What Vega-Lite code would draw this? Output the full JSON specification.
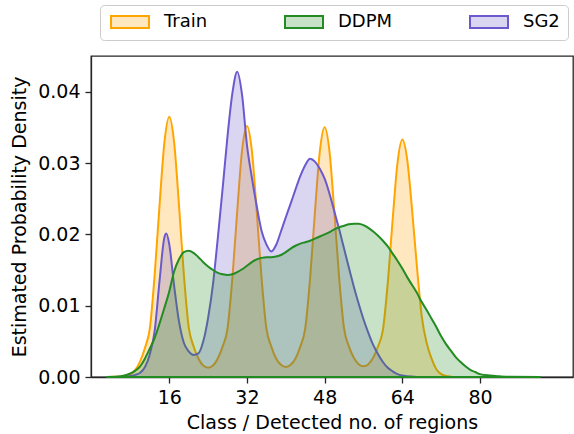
{
  "$schema": "https://vega.github.io/schema/vega-lite/v6.json",
  "width": 482,
  "height": 321,
  "autosize": {"type": "none"},
  "padding": {"left": 91, "top": 56, "right": 1, "bottom": 57},
  "background": "white",
  "config": {
    "font": "DejaVu Sans",
    "view": {"stroke": "#262626", "strokeWidth": 1.3},
    "axis": {"labelFont": "DejaVu Sans", "titleFont": "DejaVu Sans", "labelFontSize": 19, "titleFontSize": 19, "titleFontWeight": "normal", "labelColor": "#000000", "titleColor": "#000000", "tickColor": "#262626", "domainColor": "#262626", "tickWidth": 1.3, "domainWidth": 1.3, "tickSize": 6, "grid": false},
    "legend": {"title": null, "orient": "none", "legendX": 9, "legendY": -51, "direction": "horizontal", "columns": 3, "columnPadding": 72, "symbolType": "M-3.167,-1H3.167V1H-3.167Z", "symbolSize": 144, "symbolStrokeWidth": 2, "symbolOffset": 13, "labelOffset": 25, "labelFontSize": 18, "labelFont": "DejaVu Sans", "labelColor": "#000000", "padding": 8, "strokeColor": "#cccccc", "fillColor": "white", "cornerRadius": 4}
  },
  "data": {"values": [
    {"s":"Train","x":3.5,"y":0},{"s":"Train","x":5,"y":0.00003},{"s":"Train","x":6,"y":0.00006},{"s":"Train","x":7,"y":0.00015},{"s":"Train","x":8,"y":0.0004},{"s":"Train","x":9,"y":0.001},{"s":"Train","x":10,"y":0.0022},{"s":"Train","x":11,"y":0.0041},{"s":"Train","x":12,"y":0.0068},{"s":"Train","x":13,"y":0.0144},{"s":"Train","x":14,"y":0.0241},{"s":"Train","x":15,"y":0.0329},{"s":"Train","x":16,"y":0.0365},{"s":"Train","x":17,"y":0.0329},{"s":"Train","x":18,"y":0.0241},{"s":"Train","x":19,"y":0.0144},{"s":"Train","x":20,"y":0.007},{"s":"Train","x":21,"y":0.0043},{"s":"Train","x":22,"y":0.0026},{"s":"Train","x":23,"y":0.0016},{"s":"Train","x":24,"y":0.0013},{"s":"Train","x":25,"y":0.0016},{"s":"Train","x":26,"y":0.0026},{"s":"Train","x":27,"y":0.0043},{"s":"Train","x":28,"y":0.0068},{"s":"Train","x":29,"y":0.0139},{"s":"Train","x":30,"y":0.0233},{"s":"Train","x":31,"y":0.0318},{"s":"Train","x":32,"y":0.0352},{"s":"Train","x":33,"y":0.0318},{"s":"Train","x":34,"y":0.0233},{"s":"Train","x":35,"y":0.0139},{"s":"Train","x":36,"y":0.0068},{"s":"Train","x":37,"y":0.0043},{"s":"Train","x":38,"y":0.0026},{"s":"Train","x":39,"y":0.0017},{"s":"Train","x":40,"y":0.0014},{"s":"Train","x":41,"y":0.0017},{"s":"Train","x":42,"y":0.0026},{"s":"Train","x":43,"y":0.0043},{"s":"Train","x":44,"y":0.0068},{"s":"Train","x":45,"y":0.0138},{"s":"Train","x":46,"y":0.0231},{"s":"Train","x":47,"y":0.0316},{"s":"Train","x":48,"y":0.035},{"s":"Train","x":49,"y":0.0316},{"s":"Train","x":50,"y":0.0231},{"s":"Train","x":51,"y":0.0138},{"s":"Train","x":52,"y":0.0068},{"s":"Train","x":53,"y":0.0043},{"s":"Train","x":54,"y":0.0027},{"s":"Train","x":55,"y":0.0018},{"s":"Train","x":56,"y":0.0015},{"s":"Train","x":57,"y":0.0018},{"s":"Train","x":58,"y":0.0027},{"s":"Train","x":59,"y":0.0043},{"s":"Train","x":60,"y":0.0066},{"s":"Train","x":61,"y":0.0132},{"s":"Train","x":62,"y":0.022},{"s":"Train","x":63,"y":0.03},{"s":"Train","x":64,"y":0.0333},{"s":"Train","x":65,"y":0.0305},{"s":"Train","x":66,"y":0.0235},{"s":"Train","x":67,"y":0.0155},{"s":"Train","x":68,"y":0.0085},{"s":"Train","x":69,"y":0.0048},{"s":"Train","x":70,"y":0.0026},{"s":"Train","x":71,"y":0.0011},{"s":"Train","x":72,"y":0.0004},{"s":"Train","x":73,"y":0.00015},{"s":"Train","x":74,"y":0.00005},{"s":"Train","x":75,"y":0},
    {"s":"SG2","x":5,"y":0},{"s":"SG2","x":7,"y":0.00005},{"s":"SG2","x":8,"y":0.00015},{"s":"SG2","x":9,"y":0.0003},{"s":"SG2","x":10,"y":0.0006},{"s":"SG2","x":11,"y":0.0014},{"s":"SG2","x":12,"y":0.0032},{"s":"SG2","x":13,"y":0.0065},{"s":"SG2","x":14,"y":0.0135},{"s":"SG2","x":15,"y":0.0196},{"s":"SG2","x":15.4,"y":0.0201},{"s":"SG2","x":16,"y":0.0186},{"s":"SG2","x":17,"y":0.0128},{"s":"SG2","x":18,"y":0.0078},{"s":"SG2","x":19,"y":0.0048},{"s":"SG2","x":20,"y":0.0036},{"s":"SG2","x":21,"y":0.0031},{"s":"SG2","x":22,"y":0.0033},{"s":"SG2","x":23,"y":0.005},{"s":"SG2","x":24,"y":0.0083},{"s":"SG2","x":25,"y":0.013},{"s":"SG2","x":26,"y":0.0195},{"s":"SG2","x":27,"y":0.0265},{"s":"SG2","x":28,"y":0.0338},{"s":"SG2","x":29,"y":0.0398},{"s":"SG2","x":30,"y":0.0428},{"s":"SG2","x":31,"y":0.0395},{"s":"SG2","x":32,"y":0.0325},{"s":"SG2","x":33,"y":0.028},{"s":"SG2","x":34,"y":0.024},{"s":"SG2","x":35,"y":0.0205},{"s":"SG2","x":36,"y":0.0186},{"s":"SG2","x":37,"y":0.0176},{"s":"SG2","x":38,"y":0.0185},{"s":"SG2","x":39,"y":0.0204},{"s":"SG2","x":40,"y":0.0224},{"s":"SG2","x":41,"y":0.0243},{"s":"SG2","x":42,"y":0.0263},{"s":"SG2","x":43,"y":0.0282},{"s":"SG2","x":44,"y":0.0297},{"s":"SG2","x":45,"y":0.0306},{"s":"SG2","x":46,"y":0.0302},{"s":"SG2","x":47,"y":0.0292},{"s":"SG2","x":48,"y":0.0278},{"s":"SG2","x":49,"y":0.0257},{"s":"SG2","x":50,"y":0.0232},{"s":"SG2","x":51,"y":0.0207},{"s":"SG2","x":52,"y":0.018},{"s":"SG2","x":53,"y":0.0153},{"s":"SG2","x":54,"y":0.0127},{"s":"SG2","x":55,"y":0.0103},{"s":"SG2","x":56,"y":0.0081},{"s":"SG2","x":57,"y":0.0062},{"s":"SG2","x":58,"y":0.0045},{"s":"SG2","x":59,"y":0.0032},{"s":"SG2","x":60,"y":0.0021},{"s":"SG2","x":61,"y":0.0013},{"s":"SG2","x":62,"y":0.0008},{"s":"SG2","x":63,"y":0.0004},{"s":"SG2","x":64,"y":0.0002},{"s":"SG2","x":65,"y":0.0001},{"s":"SG2","x":67,"y":0},
    {"s":"DDPM","x":3,"y":0},{"s":"DDPM","x":6,"y":0.0001},{"s":"DDPM","x":8,"y":0.0005},{"s":"DDPM","x":9,"y":0.0009},{"s":"DDPM","x":10,"y":0.0015},{"s":"DDPM","x":11,"y":0.0026},{"s":"DDPM","x":12,"y":0.004},{"s":"DDPM","x":13,"y":0.0055},{"s":"DDPM","x":14,"y":0.0075},{"s":"DDPM","x":15,"y":0.0097},{"s":"DDPM","x":16,"y":0.012},{"s":"DDPM","x":17,"y":0.0148},{"s":"DDPM","x":18,"y":0.0165},{"s":"DDPM","x":19,"y":0.0175},{"s":"DDPM","x":20,"y":0.0177},{"s":"DDPM","x":21,"y":0.0174},{"s":"DDPM","x":22,"y":0.0168},{"s":"DDPM","x":23,"y":0.0161},{"s":"DDPM","x":24,"y":0.0155},{"s":"DDPM","x":25,"y":0.015},{"s":"DDPM","x":26,"y":0.0146},{"s":"DDPM","x":27,"y":0.0144},{"s":"DDPM","x":28,"y":0.0143},{"s":"DDPM","x":29,"y":0.0144},{"s":"DDPM","x":30,"y":0.0147},{"s":"DDPM","x":31,"y":0.0151},{"s":"DDPM","x":32,"y":0.0156},{"s":"DDPM","x":33,"y":0.0161},{"s":"DDPM","x":34,"y":0.0165},{"s":"DDPM","x":35,"y":0.0167},{"s":"DDPM","x":36,"y":0.0168},{"s":"DDPM","x":37,"y":0.0168},{"s":"DDPM","x":38,"y":0.0169},{"s":"DDPM","x":39,"y":0.0171},{"s":"DDPM","x":40,"y":0.0175},{"s":"DDPM","x":41,"y":0.018},{"s":"DDPM","x":42,"y":0.0184},{"s":"DDPM","x":43,"y":0.0187},{"s":"DDPM","x":44,"y":0.0189},{"s":"DDPM","x":45,"y":0.0191},{"s":"DDPM","x":46,"y":0.0194},{"s":"DDPM","x":47,"y":0.0197},{"s":"DDPM","x":48,"y":0.02},{"s":"DDPM","x":49,"y":0.0203},{"s":"DDPM","x":50,"y":0.0207},{"s":"DDPM","x":51,"y":0.021},{"s":"DDPM","x":52,"y":0.0212},{"s":"DDPM","x":53,"y":0.0214},{"s":"DDPM","x":54,"y":0.0215},{"s":"DDPM","x":55,"y":0.0215},{"s":"DDPM","x":56,"y":0.0213},{"s":"DDPM","x":57,"y":0.0209},{"s":"DDPM","x":58,"y":0.0204},{"s":"DDPM","x":59,"y":0.0198},{"s":"DDPM","x":60,"y":0.0191},{"s":"DDPM","x":61,"y":0.0183},{"s":"DDPM","x":62,"y":0.0173},{"s":"DDPM","x":63,"y":0.0163},{"s":"DDPM","x":64,"y":0.0152},{"s":"DDPM","x":65,"y":0.014},{"s":"DDPM","x":66,"y":0.0129},{"s":"DDPM","x":67,"y":0.0118},{"s":"DDPM","x":68,"y":0.0105},{"s":"DDPM","x":69,"y":0.0094},{"s":"DDPM","x":70,"y":0.0082},{"s":"DDPM","x":71,"y":0.007},{"s":"DDPM","x":72,"y":0.0057},{"s":"DDPM","x":73,"y":0.0046},{"s":"DDPM","x":74,"y":0.0037},{"s":"DDPM","x":75,"y":0.0028},{"s":"DDPM","x":76,"y":0.0021},{"s":"DDPM","x":77,"y":0.0015},{"s":"DDPM","x":78,"y":0.001},{"s":"DDPM","x":79,"y":0.0007},{"s":"DDPM","x":80,"y":0.0004},{"s":"DDPM","x":82,"y":0.0002},{"s":"DDPM","x":84,"y":0.0001},{"s":"DDPM","x":86,"y":0.00003},{"s":"DDPM","x":92.5,"y":0}
  ]},
  "encoding": {
    "x": {"field": "x", "type": "quantitative", "scale": {"domain": [-0.12, 99.15], "nice": false, "zero": false}, "axis": {"values": [16, 32, 48, 64, 80], "title": "Class / Detected no. of regions", "labelPadding": 5, "titlePadding": 6}},
    "y": {"field": "y", "type": "quantitative", "scale": {"domain": [0, 0.045], "nice": false}, "axis": {"values": [0, 0.01, 0.02, 0.03, 0.04], "format": ".2f", "title": "Estimated Probability Density", "labelPadding": 5, "titlePadding": 8}},
    "fill": {"field": "s", "type": "nominal", "scale": {"domain": ["Train", "DDPM", "SG2"], "range": ["rgba(255,165,0,0.25)", "rgba(34,139,34,0.25)", "rgba(106,90,205,0.25)"]}},
    "stroke": {"field": "s", "type": "nominal", "scale": {"domain": ["Train", "DDPM", "SG2"], "range": ["#FFA500", "#228B22", "#6A5ACD"]}}
  },
  "layer": [
    {"transform": [{"filter": "datum.s === 'Train'"}], "mark": {"type": "area", "interpolate": "monotone", "strokeWidth": 2}},
    {"transform": [{"filter": "datum.s === 'SG2'"}], "mark": {"type": "area", "interpolate": "monotone", "strokeWidth": 2}},
    {"transform": [{"filter": "datum.s === 'DDPM'"}], "mark": {"type": "area", "interpolate": "monotone", "strokeWidth": 2}}
  ]
}
